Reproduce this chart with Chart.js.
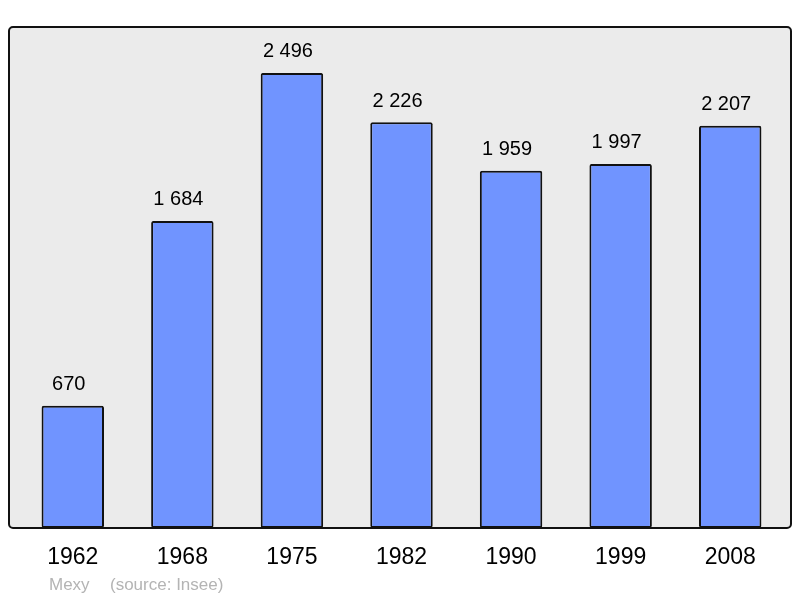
<!DOCTYPE html>
<html><head><meta charset="utf-8">
<script src="https://cdn.jsdelivr.net/npm/chart.js@4"></script>
<style>html,body{margin:0;padding:0;background:#fff;}canvas{display:block;}</style>
</head><body>
<canvas id="c" width="800" height="598"></canvas>
<script>
const years = ['1962','1968','1975','1982','1990','1999','2008'];
const population = [670, 1684, 2496, 2226, 1959, 1997, 2207];
const valueLabels = ['670','1 684','2 496','2 226','1 959','1 997','2 207'];
const footerName = 'Mexy';
const footerSource = '(source: Insee)';

const framePlugin = {
  id: 'frame',
  beforeDatasetsDraw(chart) {
    const ctx = chart.ctx, a = chart.chartArea;
    const x0 = a.left - 9, x1 = a.right + 6, y0 = a.top, y1 = a.bottom;
    ctx.save();
    ctx.beginPath();
    ctx.roundRect(x0, y0, x1 - x0, y1 - y0, 4);
    ctx.fillStyle = '#ebebeb';
    ctx.fill();
    ctx.restore();
  },
  afterDatasetsDraw(chart) {
    const ctx = chart.ctx, a = chart.chartArea;
    const x0 = a.left - 9, x1 = a.right + 6, y0 = a.top, y1 = a.bottom;
    ctx.save();
    ctx.beginPath();
    ctx.roundRect(x0, y0, x1 - x0, y1 - y0, 4);
    ctx.lineWidth = 2;
    ctx.strokeStyle = '#111';
    ctx.stroke();
    const xs = chart.scales.x, ys = chart.scales.y;
    ctx.fillStyle = '#000';
    ctx.textAlign = 'center';
    ctx.textBaseline = 'middle';
    ctx.font = '20px "Liberation Sans", Arial, sans-serif';
    population.forEach((v, i) => {
      ctx.fillText(valueLabels[i], xs.getPixelForValue(i) - 4, ys.getPixelForValue(v) - 21);
    });
    ctx.font = '23px "Liberation Sans", Arial, sans-serif';
    years.forEach((y, i) => {
      ctx.fillText(y, xs.getPixelForValue(i), a.bottom + 30);
    });
    ctx.font = '17px "Liberation Sans", Arial, sans-serif';
    ctx.fillStyle = '#b4b4b4';
    ctx.textAlign = 'left';
    ctx.fillText(footerName, 49, 585);
    ctx.fillText(footerSource, 110, 585);
    ctx.restore();
  }
};

new Chart(document.getElementById('c'), {
  type: 'bar',
  data: {
    labels: years,
    datasets: [{
      data: population,
      backgroundColor: '#7094ff',
      borderColor: '#111',
      borderWidth: 2,
      borderSkipped: false,
      borderRadius: 2,
      categoryPercentage: 1,
      barPercentage: 0.57
    }]
  },
  plugins: [framePlugin],
  options: {
    responsive: false,
    animation: false,
    layout: { padding: { left: 18, right: 15, top: 27, bottom: 70 } },
    plugins: { legend: { display: false }, tooltip: { enabled: false } },
    scales: {
      x: { display: false },
      y: { display: false, min: 0, max: 2748 }
    }
  }
});
</script>
</body></html>
